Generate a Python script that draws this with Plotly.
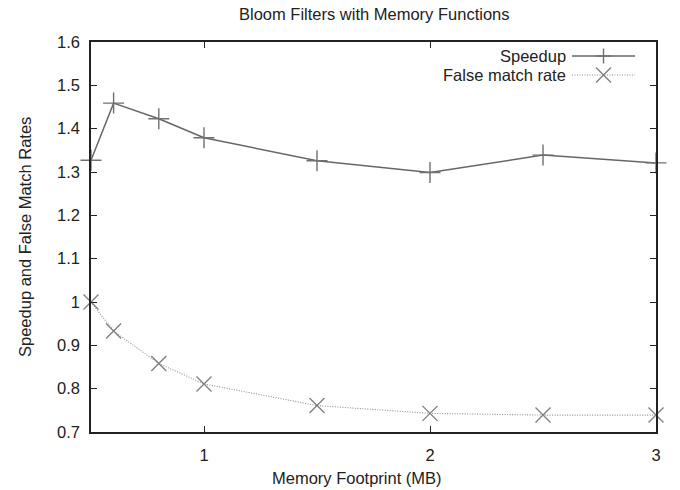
import plotly.graph_objects as go

# Memory footprint (MB) and the two measured series
memory_mb = [0.5, 0.6, 0.8, 1.0, 1.5, 2.0, 2.5, 3.0]
speedup = [1.327, 1.459, 1.423, 1.379, 1.326, 1.299, 1.339, 1.321]
false_match = [1.0, 0.933, 0.858, 0.811, 0.761, 0.743, 0.739, 0.739]

series_names = ["Speedup", "False match rate"]
y_ticks = [0.7, 0.8, 0.9, 1.0, 1.1, 1.2, 1.3, 1.4, 1.5, 1.6]
y_tick_text = ["0.7", "0.8", "0.9", "1", "1.1", "1.2", "1.3", "1.4", "1.5", "1.6"]
x_ticks = [1, 2, 3]
x_tick_text = ["1", "2", "3"]

W, H = 680, 490
L, R, T, B = 91, 656, 42, 432
FONT = "Liberation Sans, Arial, Helvetica, sans-serif"
FS = 16.5
TXT = "#222222"


def px(x):
    return (x - L) / (R - L)


def py(y):
    return (B - y) / (B - T)


fig = go.Figure()

fig.add_trace(go.Scatter(
    x=memory_mb, y=speedup, name=series_names[0], mode="lines+markers",
    line=dict(color="#666666", width=1.5),
    marker=dict(symbol="cross-thin", size=15, line=dict(color="#707070", width=1.4)),
    cliponaxis=False, showlegend=False,
))
fig.add_trace(go.Scatter(
    x=memory_mb, y=false_match, name=series_names[1], mode="lines+markers",
    line=dict(color="#8f8f8f", width=1.1, dash="1px,1.5px"),
    marker=dict(symbol="x-thin", size=15, line=dict(color="#808080", width=1.4)),
    cliponaxis=False, showlegend=False,
))

axis_common = dict(
    showline=True, linecolor="#222222", linewidth=1.5, mirror="allticks",
    ticks="inside", ticklen=6, tickwidth=1.3, tickcolor="#222222",
    showgrid=False, zeroline=False,
    tickfont=dict(family=FONT, size=FS, color=TXT),
)

fig.update_xaxes(range=[0.5, 3], tickvals=x_ticks, ticktext=x_tick_text,
                 ticklabelstandoff=7, **axis_common)
fig.update_yaxes(range=[0.7, 1.6], tickvals=y_ticks, ticktext=y_tick_text,
                 ticklabelstandoff=6, **axis_common)

annotations = [
    dict(text="Bloom Filters with Memory Functions", x=px(374.5), y=py(14)),
    dict(text="Memory Footprint (MB)", x=px(357), y=py(478)),
    dict(text="Speedup and False Match Rates", x=px(25), y=py(237), textangle=-90),
    dict(text=series_names[0], x=px(568), y=py(56), xanchor="right"),
    dict(text=series_names[1], x=px(568), y=py(75), xanchor="right"),
]
for a in annotations:
    a.setdefault("xanchor", "center")
    fig.add_annotation(xref="paper", yref="paper", yanchor="middle", showarrow=False,
                       font=dict(family=FONT, size=FS, color=TXT), **a)

# legend keys: line sample with the series glyph drawn at its centre
shapes = []
kx0, kx1, kc = 572, 635, 603.5
shapes.append(dict(type="line", x0=px(kx0), x1=px(kx1), y0=py(56), y1=py(56),
                   line=dict(color="#666666", width=1.5)))
shapes.append(dict(type="line", x0=px(kc - 7.5), x1=px(kc + 7.5), y0=py(56), y1=py(56),
                   line=dict(color="#707070", width=1.4)))
shapes.append(dict(type="line", x0=px(kc), x1=px(kc), y0=py(48.5), y1=py(63.5),
                   line=dict(color="#707070", width=1.4)))
shapes.append(dict(type="line", x0=px(kx0), x1=px(kx1), y0=py(75), y1=py(75),
                   line=dict(color="#8f8f8f", width=1.1, dash="1px,1.5px")))
shapes.append(dict(type="line", x0=px(kc - 7.5), x1=px(kc + 7.5), y0=py(67.5), y1=py(82.5),
                   line=dict(color="#808080", width=1.4)))
shapes.append(dict(type="line", x0=px(kc - 7.5), x1=px(kc + 7.5), y0=py(82.5), y1=py(67.5),
                   line=dict(color="#808080", width=1.4)))
for s in shapes:
    fig.add_shape(xref="paper", yref="paper", **s)

fig.update_layout(
    width=W, height=H,
    margin=dict(l=L, r=W - R, t=T, b=H - B, pad=0),
    paper_bgcolor="white", plot_bgcolor="white",
    font=dict(family=FONT, size=FS, color=TXT),
    showlegend=False,
)

fig.write_html("out.html")
